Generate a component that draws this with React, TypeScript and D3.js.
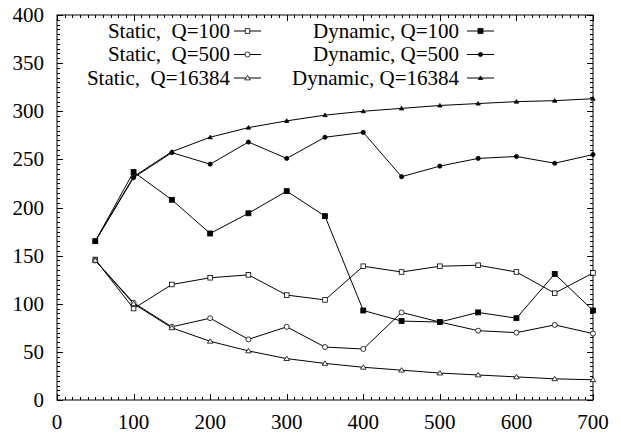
import * as d3 from "d3";

const xs = [50, 100, 150, 200, 250, 300, 350, 400, 450, 500, 550, 600, 650, 700];

const staticQ100 = [146, 95, 120, 127, 130, 109, 104, 139, 133, 139, 140, 133, 111, 132];
const staticQ500 = [145, 101, 76, 85, 63, 76, 55, 53, 91, 81, 72, 70, 78, 69];
const staticQ16384 = [145, 100, 75, 61, 51, 43, 38, 34, 31, 28, 26, 24, 22, 21];
const dynamicQ100 = [165, 237, 208, 173, 194, 217, 191, 93, 82, 81, 91, 85, 131, 93];
const dynamicQ500 = [165, 231, 257, 245, 268, 251, 273, 278, 232, 243, 251, 253, 246, 255];
const dynamicQ16384 = [165, 232, 258, 273, 283, 290, 296, 300, 303, 306, 308, 310, 311, 313];

const xTicks = [0, 100, 200, 300, 400, 500, 600, 700];
const yTicks = [0, 50, 100, 150, 200, 250, 300, 350, 400];

const seriesList = [
    { name: "Static,\u00A0 Q=100", values: staticQ100, marker: "square", filled: false },
    { name: "Static,\u00A0 Q=500", values: staticQ500, marker: "circle", filled: false },
    { name: "Static,\u00A0 Q=16384", values: staticQ16384, marker: "triangle", filled: false },
    { name: "Dynamic, Q=100", values: dynamicQ100, marker: "square", filled: true },
    { name: "Dynamic, Q=500", values: dynamicQ500, marker: "circle", filled: true },
    { name: "Dynamic, Q=16384", values: dynamicQ16384, marker: "triangle", filled: true },
];

const width = 621;
const height = 433;
const left = 57, right = 593, top = 15, bottom = 400;
const fs = 21;

const x = d3.scaleLinear().domain([0, 700]).range([left, right]);
const y = d3.scaleLinear().domain([0, 400]).range([bottom, top]);
const line = d3.line().x(d => x(d[0])).y(d => y(d[1]));

function Marker({ kind, filled, cx, cy }) {
    const fill = filled ? "#000" : "#fff";
    const common = { fill, stroke: "#000", strokeWidth: 0.8 };
    if (kind === "square") {
        const s = filled ? 5 : 4.6;
        return <rect x={cx - s / 2} y={cy - s / 2} width={s} height={s} {...common} />;
    }
    if (kind === "circle") {
        return <circle cx={cx} cy={cy} r={filled ? 2.1 : 2.5} {...common} />;
    }
    const h = filled ? 3.4 : 4.2;
    const w = filled ? 2.2 : 2.8;
    return (
        <path
            d={`M${cx},${cy - h * 0.6}L${cx + w},${cy + h * 0.45}L${cx - w},${cy + h * 0.45}Z`}
            {...common}
        />
    );
}

function Label({ x, y, anchor, children }) {
    return (
        <text
            x={x}
            y={y}
            textAnchor={anchor}
            fontSize={fs}
            fontFamily="Liberation Serif"
            style={{ fontFamily: '"Liberation Serif"' }}
        >
            {children}
        </text>
    );
}

export default function App() {
    const xMinor = d3.range(0, 701, 10);
    const yMinor = d3.range(0, 401, 5);

    return (
        <div style={{ position: "absolute", left: 0, top: 0, fontFamily: '"Liberation Serif"' }}>
            <style>{`svg text { font-family: "Liberation Serif" !important; }`}</style>
            <svg width={width} height={height} style={{ display: "block" }}>
                <rect width={width} height={height} fill="#fff" />

                {/* ticks on all four sides */}
                <g stroke="#000" strokeWidth={1}>
                    {xMinor.map(v => {
                        const len = v % 100 === 0 ? 6 : 3;
                        const px = Math.round(x(v)) + 0.5;
                        return (
                            <g key={"x" + v}>
                                <line x1={px} x2={px} y1={bottom} y2={bottom - len} />
                                <line x1={px} x2={px} y1={top} y2={top + len} />
                            </g>
                        );
                    })}
                    {yMinor.map(v => {
                        const len = v % 50 === 0 ? 6 : 3;
                        const py = Math.round(y(v)) + 0.5;
                        return (
                            <g key={"y" + v}>
                                <line y1={py} y2={py} x1={left} x2={left + len} />
                                <line y1={py} y2={py} x1={right} x2={right - len} />
                            </g>
                        );
                    })}
                </g>

                <rect x={left} y={top} width={right - left} height={bottom - top} fill="none" stroke="#000" strokeWidth={1} />

                {xTicks.map(d => (
                    <Label key={"xl" + d} x={x(d)} y={429} anchor="middle">{String(d)}</Label>
                ))}
                {yTicks.map(d => (
                    <Label key={"yl" + d} x={44} y={y(d) + 7} anchor="end">{String(d)}</Label>
                ))}

                {seriesList.map(s => (
                    <path
                        key={"l" + s.name}
                        d={line(xs.map((v, i) => [v, s.values[i]]))}
                        fill="none"
                        stroke="#000"
                        strokeWidth={1}
                    />
                ))}
                {seriesList.map(s => (
                    <g key={"m" + s.name}>
                        {xs.map((v, i) => (
                            <Marker key={v} kind={s.marker} filled={s.filled} cx={x(v)} cy={y(s.values[i])} />
                        ))}
                    </g>
                ))}

                {/* legend */}
                {seriesList.map((s, i) => {
                    const col = i < 3 ? 0 : 1;
                    const row = i % 3;
                    const textRight = col === 0 ? 230 : 459;
                    const lineX1 = col === 0 ? 234 : 467;
                    const cy = 31 + row * 23.5;
                    return (
                        <g key={"lg" + s.name}>
                            <Label x={textRight} y={cy + 6.5} anchor="end">{s.name}</Label>
                            <line x1={lineX1} x2={lineX1 + 27} y1={cy} y2={cy} stroke="#000" strokeWidth={1} />
                            <Marker kind={s.marker} filled={s.filled} cx={lineX1 + 13.5} cy={cy} />
                        </g>
                    );
                })}
            </svg>
        </div>
    );
}
